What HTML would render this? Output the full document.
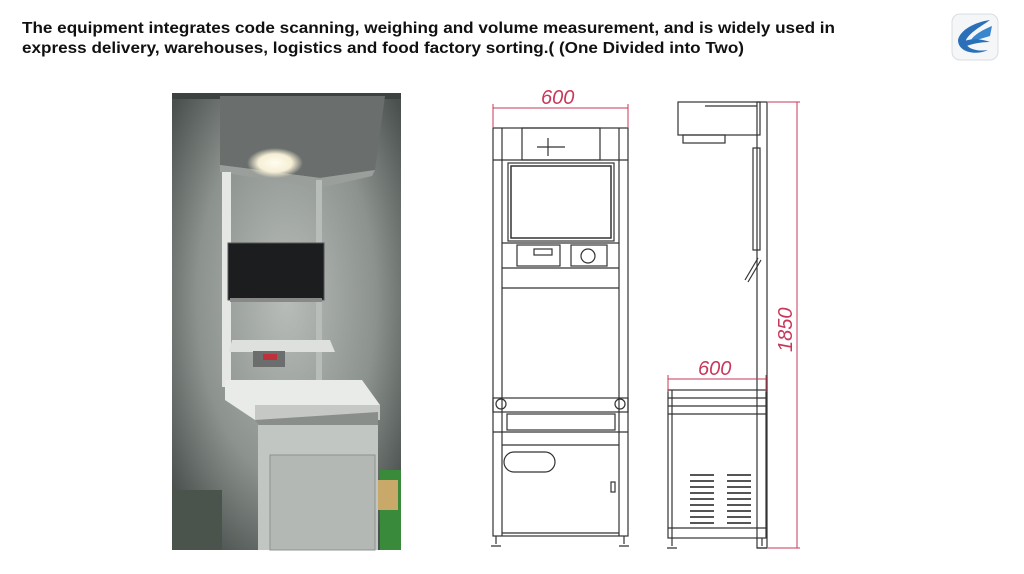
<!DOCTYPE html>
<html><head><meta charset="utf-8"><style>
html,body{margin:0;padding:0;background:#fff;}
svg{display:block;}
</style></head><body>
<svg width="1024" height="574" viewBox="0 0 1024 574" xmlns="http://www.w3.org/2000/svg">
<rect width="1024" height="574" fill="#fff"/>
<g font-family="Liberation Sans, sans-serif" font-weight="bold" font-size="16" fill="#111">
<text x="22" y="33" textLength="813" lengthAdjust="spacingAndGlyphs">The equipment integrates code scanning, weighing and volume measurement, and is widely used in</text>
<text x="22" y="53" textLength="722" lengthAdjust="spacingAndGlyphs">express delivery, warehouses, logistics and food factory sorting.( (One Divided into Two)</text>
</g>
<!-- logo -->
<rect x="952" y="14" width="46" height="46" rx="8" fill="#f4f6f8" stroke="#d8dde2"/>
<path d="M990 20 C975 22 960 30 958 40 C958 52 975 56 988 50 C976 52 964 48 966 40 C970 32 982 26 990 20Z" fill="#2a6fb8"/>
<path d="M992 26 C982 30 972 36 970 42 L990 36Z" fill="#3a86cc"/>
<path d="M960 44 C966 38 980 38 990 42 C980 42 970 44 962 48Z" fill="#2a6fb8"/>
<!-- photo -->
<defs>
<radialGradient id="lg" cx="0.5" cy="0.45" r="0.65">
<stop offset="0" stop-color="#b8bdb9"/><stop offset="0.6" stop-color="#8c928e"/><stop offset="1" stop-color="#4a504d"/>
</radialGradient>
<radialGradient id="lamp" cx="0.5" cy="0.5" r="0.5">
<stop offset="0" stop-color="#fffdf0"/><stop offset="0.6" stop-color="#f6efd6"/><stop offset="1" stop-color="#f2ead0" stop-opacity="0"/>
</radialGradient>
</defs>
<rect x="172" y="93" width="229" height="457" fill="url(#lg)"/>
<rect x="172" y="93" width="229" height="6" fill="#3c4240"/>
<polygon points="220,96 385,96 375,170 320,178 220,165" fill="#6a6f6d"/>
<polygon points="220,165 320,178 375,170 372,176 320,188 220,172" fill="#9a9f9c"/>
<ellipse cx="275" cy="163" rx="28" ry="15" fill="url(#lamp)"/>
<rect x="222" y="172" width="9" height="215" fill="#e4e7e4"/>
<rect x="316" y="180" width="6" height="207" fill="#b8bdba"/>
<rect x="228" y="243" width="96" height="57" fill="#1b1d1f" stroke="#555"/>
<rect x="230" y="298" width="92" height="4" fill="#888"/>
<polygon points="232,340 330,340 335,352 229,352" fill="#dde0dd"/>
<rect x="253" y="351" width="32" height="16" fill="#6c6e6e"/>
<rect x="263" y="354" width="14" height="6" fill="#c0303a"/>
<polygon points="225,380 362,380 380,405 255,420 225,400" fill="#e8ebe8"/>
<rect x="255" y="405" width="125" height="15" fill="#c5c8c5"/>
<polygon points="255,420 378,412 378,430 270,440" fill="#8a8e8b"/>
<rect x="258" y="425" width="120" height="125" fill="#c2c6c2"/>
<rect x="270" y="455" width="105" height="95" fill="#b4b8b4" stroke="#8f938f"/>
<rect x="172" y="490" width="50" height="60" fill="#4a544c"/>
<rect x="380" y="470" width="21" height="80" fill="#3a8a3c"/>
<rect x="378" y="480" width="20" height="30" fill="#c8a96a"/>
<!-- front drawing -->
<g fill="none" stroke="#333" stroke-width="1.2">
<rect x="493" y="128" width="135" height="408"/>
<line x1="502" y1="128" x2="502" y2="536"/>
<line x1="619" y1="128" x2="619" y2="536"/>
<rect x="522" y="128" width="78" height="32"/>
<line x1="493" y1="160" x2="628" y2="160"/>
<rect x="508" y="163" width="106" height="78"/>
<rect x="511" y="166" width="100" height="72" stroke-width="1.5"/>
<line x1="502" y1="243" x2="619" y2="243"/>
<rect x="517" y="245" width="43" height="21"/>
<rect x="534" y="249" width="18" height="6"/>
<rect x="571" y="245" width="36" height="21"/>
<circle cx="588" cy="256" r="7"/>
<line x1="502" y1="268" x2="619" y2="268"/>
<line x1="502" y1="288" x2="619" y2="288"/>
<rect x="493" y="398" width="135" height="14"/>
<circle cx="501" cy="404" r="5"/><circle cx="620" cy="404" r="5"/>
<rect x="507" y="414" width="108" height="16"/>
<line x1="493" y1="432" x2="628" y2="432"/>
<line x1="502" y1="445" x2="619" y2="445"/>
<rect x="504" y="452" width="51" height="20" rx="10"/>
<rect x="611" y="482" width="4" height="10"/>
<line x1="502" y1="533" x2="619" y2="533"/>
<path d="M496 536 v8 M491 546 h10 M624 536 v8 M619 546 h10"/>
<path d="M537 147 h28 M548 138 v18"/>
</g>
<!-- side drawing -->
<g fill="none" stroke="#333" stroke-width="1.2">
<rect x="678" y="102" width="82" height="33"/>
<line x1="705" y1="106" x2="757" y2="106"/>
<rect x="683" y="135" width="42" height="8"/>
<rect x="757" y="102" width="10" height="446"/>
<rect x="753" y="148" width="7" height="102"/>
<line x1="745" y1="280" x2="758" y2="258"/>
<line x1="748" y1="282" x2="761" y2="260"/>
<rect x="668" y="390" width="98" height="148"/>
<line x1="672" y1="390" x2="672" y2="538"/>
<line x1="668" y1="398" x2="766" y2="398"/>
<line x1="668" y1="406" x2="766" y2="406"/>
<line x1="668" y1="414" x2="766" y2="414"/>
<line x1="668" y1="528" x2="766" y2="528"/>
<path d="M672 538 v8 M667 548 h10 M762 538 v8 M757 548 h10"/>
</g>
<g stroke="#555" stroke-width="2">
<path d="M690 475h24 M690 481h24 M690 487h24 M690 493h24 M690 499h24 M690 505h24 M690 511h24 M690 517h24 M690 523h24"/>
<path d="M727 475h24 M727 481h24 M727 487h24 M727 493h24 M727 499h24 M727 505h24 M727 511h24 M727 517h24 M727 523h24"/>
</g>
<!-- dimensions -->
<g stroke="#c8385a" fill="none" stroke-width="1">
<line x1="493" y1="108" x2="628" y2="108"/>
<line x1="493" y1="104" x2="493" y2="128"/><line x1="628" y1="104" x2="628" y2="128"/>
<line x1="668" y1="379" x2="766" y2="379"/>
<line x1="668" y1="375" x2="668" y2="392"/><line x1="766" y1="375" x2="766" y2="392"/>
<line x1="797" y1="102" x2="797" y2="548"/>
<line x1="768" y1="102" x2="800" y2="102"/><line x1="768" y1="548" x2="800" y2="548"/>
</g>
<g fill="#c8385a" font-family="Liberation Sans, sans-serif" font-style="italic" font-size="20">
<text x="541" y="104">600</text>
<text x="698" y="375">600</text>
<text transform="translate(792,352) rotate(-90)">1850</text>
</g>
</svg>
</body></html>
